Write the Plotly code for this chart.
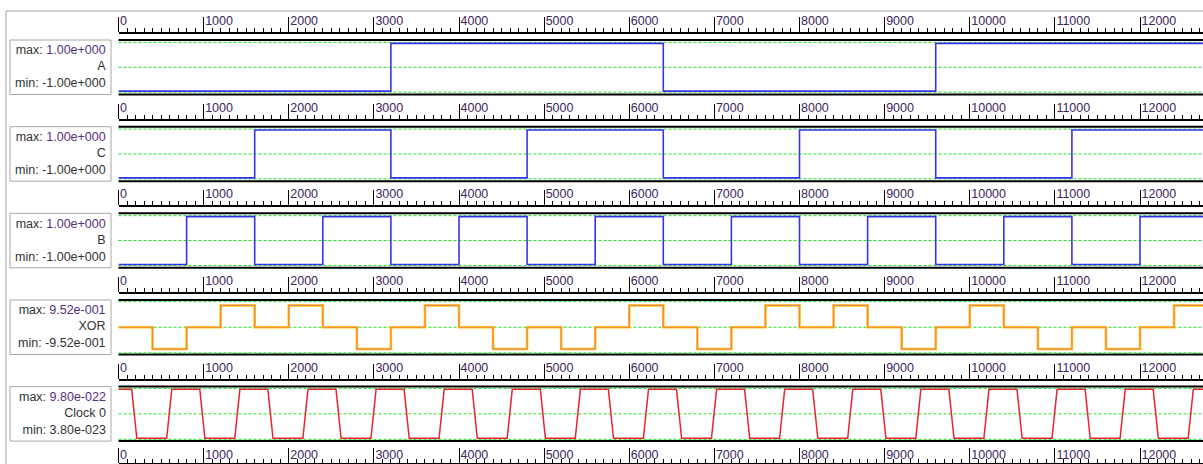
import plotly.graph_objects as go

# ---------------- data ----------------
X_END = 12740
A_edges = [3200, 6400, 9600]
C_edges = [1600, 3200, 4800, 6400, 8000, 9600, 11200]
B_edges = [800, 1600, 2400, 3200, 4000, 4800, 5600, 6400, 7200, 8000,
           8800, 9600, 10400, 11200, 12000]
xor_t = [0, 400, 800, 1200, 1600, 2000, 2400, 2800, 3200, 3600, 4000, 4400,
         4800, 5200, 5600, 6000, 6400, 6800, 7200, 7600, 8000, 8400, 8800,
         9200, 9600, 10000, 10400, 10800, 11200, 11600, 12000, 12400]
xor_lvl = [0, -1, 0, 1, 0, 1, 0, -1, 0, 1, 0, -1, 0, -1, 0, 1, 0, -1, 0, 1,
           0, 1, 0, -1, 0, 1, 0, -1, 0, -1, 0, 1]
XOR_MAX = 0.952
clk_fall = [155, 955, 1755, 2555, 3355, 4155, 4955, 5755, 6555, 7355, 8155,
            8955, 9755, 10555, 11355, 12155]
clk_rise = [566, 1366, 2166, 2966, 3766, 4566, 5366, 6166, 6966, 7766, 8566,
            9366, 10166, 10966, 11766, 12566]
CLK_RAMP = 60
CLK_HI = 9.80e-22
CLK_LO = 3.80e-23

labels = [("1.00e+000", "A", "-1.00e+000"),
          ("1.00e+000", "C", "-1.00e+000"),
          ("1.00e+000", "B", "-1.00e+000"),
          ("9.52e-001", "XOR", "-9.52e-001"),
          ("9.80e-022", "Clock 0", "3.80e-023")]

# ---------------- geometry ----------------
W, H = 1203, 464
X0PX = 118.5
tops = [40, 126.7, 213.3, 300, 386.6]
PH = 54.5
RULER_GAP = 7

def py(p):
    return 1 - p / H

def sfx(n):
    return "" if n == 1 else str(n)

def step_series(edges, start=-1):
    xs, ys = [0], [start]
    v = start
    for e in edges:
        v = -v
        xs.append(e); ys.append(v)
    xs.append(X_END); ys.append(v)
    return xs, ys

fig = go.Figure()
BLUE = "#3535E6"

for i, edges in enumerate([A_edges, C_edges, B_edges]):
    xs, ys = step_series(edges)
    n = i + 1
    fig.add_trace(go.Scatter(x=xs, y=ys, mode="lines", line_shape="hv",
                             line=dict(color=BLUE, width=1.6),
                             xaxis=f"x{sfx(n)}", yaxis=f"y{sfx(n)}", showlegend=False,
                             hoverinfo="skip"))

# XOR
xx = list(xor_t) + [X_END]
xy = [l * XOR_MAX for l in xor_lvl] + [xor_lvl[-1] * XOR_MAX]
fig.add_trace(go.Scatter(x=xx, y=xy, mode="lines", line_shape="hv",
                         line=dict(color="#FFC514", width=2.6),
                         xaxis="x4", yaxis="y4", showlegend=False, hoverinfo="skip"))
fig.add_trace(go.Scatter(x=xx, y=xy, mode="lines", line_shape="hv",
                         line=dict(color="#F4874B", width=1.2),
                         xaxis="x4", yaxis="y4", showlegend=False, hoverinfo="skip"))

# Clock
cx, cy = [0], [CLK_HI]
for f, r in zip(clk_fall, clk_rise):
    cx += [f, f + CLK_RAMP, r, r + CLK_RAMP]
    cy += [CLK_HI, CLK_LO, CLK_LO, CLK_HI]
cx.append(X_END); cy.append(CLK_HI)
fig.add_trace(go.Scatter(x=cx, y=cy, mode="lines",
                         line=dict(color="#E8242E", width=1.5),
                         xaxis="x5", yaxis="y5", showlegend=False, hoverinfo="skip"))
# dummy trace for bottom ruler
fig.add_trace(go.Scatter(x=[0], y=[None], mode="lines", xaxis="x6", yaxis="y5",
                         showlegend=False, hoverinfo="skip"))

# ---------------- axes ----------------
xdom = [X0PX / W, 1]
ranges = [[-1.14, 1.14]] * 3 + [[-1.19, 1.19], [-0.15e-22, 10.33e-22]]
grids = [[-1.04, 0, 1.04]] * 3 + [[-1.12, 0, 1.12], [0.19e-22, 5.09e-22, 9.99e-22]]

def ruler(pos, standoff=2):
    return dict(domain=xdom, range=[0, X_END], anchor="free", position=pos,
                side="top", showline=True, linecolor="black", linewidth=2,
                ticks="outside", ticklen=15, tickwidth=1, tickcolor="black",
                dtick=1000, tick0=0, tickformat="d", showgrid=False, zeroline=False,
                ticklabelposition="outside right", ticklabelstandoff=standoff,
                tickfont=dict(family="Liberation Sans", size=12.5, color="#3e2560"),
                minor=dict(dtick=100, ticklen=4, tickcolor="black", tickwidth=1,
                           showgrid=False),
                fixedrange=True)

layout = {}
shapes = []
annotations = []
for i in range(5):
    n = i + 1
    s = sfx(n)
    t = tops[i]
    ydom = [py(t + PH), py(t)]
    layout[f"xaxis{s}"] = ruler(py(t - RULER_GAP))
    layout[f"yaxis{s}"] = dict(domain=ydom, range=ranges[i], anchor=f"x{s}",
                               showticklabels=False, ticks="", zeroline=False,
                               showline=False, showgrid=False, fixedrange=True)
    for yy in (0, 1):
        shapes.append(dict(type="line", xref="paper", yref=f"y{s} domain",
                           x0=X0PX / W, x1=1, y0=yy, y1=yy,
                           line=dict(color="black", width=2), layer="below"))
    for g in grids[i]:
        shapes.append(dict(type="line", xref="paper", yref=f"y{s}",
                           x0=X0PX / W, x1=1, y0=g, y1=g,
                           line=dict(color="#1FE01F", width=1, dash="3px,2px"),
                           layer="below"))
    shapes.append(dict(type="rect", xref="paper", yref="paper",
                       x0=10 / W, x1=111 / W, y0=ydom[0], y1=ydom[1],
                       line=dict(color="#A8A8A8", width=1), layer="below"))
    mx, name, mn = labels[i]
    annotations.append(dict(
        xref="paper", yref="paper", x=108 / W, y=py(t + PH / 2 - 0.5),
        xanchor="right", yanchor="middle", align="right", showarrow=False,
        text=f"max: <span style='color:#55307f'>{mx}</span><br>{name}<br>min: {mn}",
        font=dict(family="Liberation Sans", size=12.5, color="#333333")))

layout["xaxis6"] = ruler(0.0, standoff=-1)
layout["xaxis6"]["overlaying"] = "x5"

# window frame
shapes.append(dict(type="line", xref="paper", yref="paper", x0=6 / W, x1=1,
                   y0=py(11), y1=py(11), line=dict(color="#A0A0A0", width=1)))
shapes.append(dict(type="line", xref="paper", yref="paper", x0=6 / W, x1=6 / W,
                   y0=0, y1=py(11), line=dict(color="#A0A0A0", width=1)))

fig.update_layout(width=W, height=H, margin=dict(l=0, r=0, t=0, b=0),
                  paper_bgcolor="white", plot_bgcolor="rgba(0,0,0,0)",
                  shapes=shapes, annotations=annotations, **layout)

fig.write_html("out.html", config={"displayModeBar": False},
               post_script="document.body.style.margin='0';document.body.style.overflow='hidden';")
